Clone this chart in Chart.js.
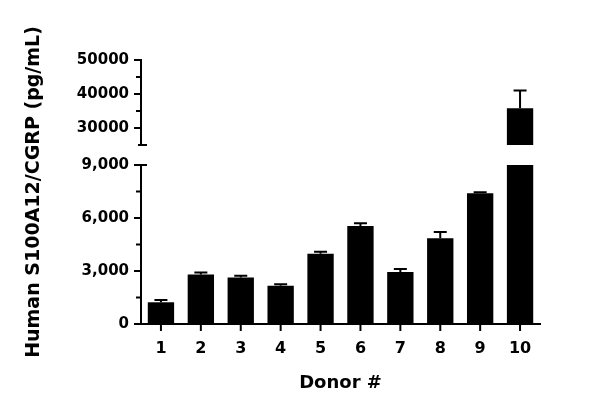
<!DOCTYPE html>
<html lang="en">
<head>
  <meta charset="UTF-8" />
  <title>Human S100A12/CGRP by donor</title>
  <script src="https://cdn.jsdelivr.net/npm/chart.js"></script>
  <style>
    body { margin: 0; background: #fff; }
    #wrap { width: 600px; height: 414px; }
  </style>
</head>
<body>
  <div id="wrap"><canvas id="donorChart" width="600" height="414"></canvas></div>

  <script>
    // values (pg/mL), mean and upper SD
    const donors = ["1", "2", "3", "4", "5", "6", "7", "8", "9", "10"];
    const means = [1230, 2810, 2640, 2170, 3980, 5550, 2940, 4850, 7400, 35800];
    const errs = [130, 110, 90, 80, 110, 150, 170, 360, 60, 5200];

    // broken y axis: two segments
    const lowTicks = [0, 3000, 6000, 9000];
    const lowMinor = [1500, 4500, 7500];
    const highTicks = [30000, 40000, 50000];
    const highMinor = [35000, 45000];
    const lowMax = 9000;
    const highMin = 25000;
    const highMax = 50000;

    const lowData = means.map(v => Math.min(v, lowMax));
    const highData = means.map(v => (v > highMin ? v : null));

    Chart.defaults.font.family = "'DejaVu Sans', sans-serif";
    Chart.defaults.font.weight = "bold";
    Chart.defaults.color = "#000";

    const axisGrid = { display: true, drawOnChartArea: false, drawTicks: true, tickLength: 7, color: "#000", lineWidth: 2 };

    // give the two stacked axes a gap between them and draw the extras
    const brokenAxis = {
      id: "brokenAxis",
      afterLayout(chart) {
        const a = chart.chartArea;
        const h = a.bottom - a.top;
        const hi = chart.scales.yHigh, lo = chart.scales.yLow;
        hi.top = a.top;
        hi.bottom = a.top + h * 0.322;
        hi.height = hi.bottom - hi.top;
        lo.bottom = a.bottom;
        lo.top = a.bottom - h * 0.602;
        lo.height = lo.bottom - lo.top;
        hi.configure();
        lo.configure();
      },
      afterDatasetsDraw(chart) {
        const ctx = chart.ctx;
        const x = chart.scales.x;
        ctx.save();
        ctx.strokeStyle = "#000";
        ctx.lineWidth = 2;
        means.forEach((v, i) => {
          const s = v > lowMax ? chart.scales.yHigh : chart.scales.yLow;
          const px = x.getPixelForValue(i);
          const y0 = s.getPixelForValue(v);
          const y1 = s.getPixelForValue(v + errs[i]);
          ctx.beginPath();
          ctx.moveTo(px, y0);
          ctx.lineTo(px, y1);
          ctx.moveTo(px - 6.5, y1);
          ctx.lineTo(px + 6.5, y1);
          ctx.stroke();
        });
        ctx.restore();
      },
      afterDraw(chart) {
        const ctx = chart.ctx;
        const x = chart.scales.x;
        const hi = chart.scales.yHigh, lo = chart.scales.yLow;
        const ax = hi.right;
        ctx.save();
        ctx.strokeStyle = "#000";
        ctx.lineWidth = 2;
        ctx.beginPath();
        lowMinor.forEach(v => {
          const y = lo.getPixelForValue(v);
          ctx.moveTo(ax - 5, y); ctx.lineTo(ax, y);
        });
        highMinor.forEach(v => {
          const y = hi.getPixelForValue(v);
          ctx.moveTo(ax - 5, y); ctx.lineTo(ax, y);
        });
        // x tick marks under each bar
        donors.forEach((d, i) => {
          const px = x.getPixelForValue(i);
          ctx.moveTo(px, x.top); ctx.lineTo(px, x.top + 7);
        });
        // break caps
        const yb = hi.getPixelForValue(highMin);
        ctx.moveTo(ax - 3, yb); ctx.lineTo(ax + 6, yb);
        const yt = lo.getPixelForValue(lowMax);
        ctx.moveTo(ax, yt); ctx.lineTo(ax + 6, yt);
        ctx.stroke();

        // y axis title spanning both segments
        const a = chart.chartArea;
        ctx.translate(34, (a.top + a.bottom) / 2);
        ctx.rotate(-Math.PI / 2);
        ctx.font = "bold 19px 'DejaVu Sans'";
        ctx.fillStyle = "#000";
        ctx.textAlign = "center";
        ctx.textBaseline = "middle";
        ctx.fillText("Human S100A12/CGRP (pg/mL)", 0, 0);
        ctx.restore();
      }
    };

    new Chart(document.getElementById("donorChart"), {
      type: "bar",
      data: {
        labels: donors,
        datasets: [
          { data: lowData, yAxisID: "yLow", backgroundColor: "#000", grouped: false,
            barPercentage: 0.66, categoryPercentage: 1 },
          { data: highData, yAxisID: "yHigh", backgroundColor: "#000", grouped: false,
            barPercentage: 0.66, categoryPercentage: 1 }
        ]
      },
      options: {
        responsive: false,
        animation: false,
        layout: { padding: { left: 0, top: 60, right: 60, bottom: 0 } },
        plugins: { legend: { display: false }, tooltip: { enabled: false } },
        scales: {
          x: {
            grid: { display: false, tickLength: 6 },
            border: { display: true, color: "#000", width: 2 },
            ticks: { font: { size: 16, weight: "bold" }, padding: 9 },
            title: { display: true, text: "Donor #", font: { size: 18, weight: "bold" },
                     padding: { top: 0, bottom: 20 } },
            afterFit(s) { s.height = 90; }
          },
          yHigh: {
            type: "linear", position: "left", stack: "y", stackWeight: 1,
            min: highMin, max: highMax,
            grid: axisGrid,
            border: { color: "#000", width: 2 },
            ticks: { font: { size: 15, weight: "bold" }, padding: 5, callback: v => String(v) },
            afterBuildTicks(s) { s.ticks = highTicks.map(v => ({ value: v })); },
            afterFit(s) { s.width = 141; }
          },
          yLow: {
            type: "linear", position: "left", stack: "y", stackWeight: 2,
            min: 0, max: lowMax,
            grid: axisGrid,
            border: { color: "#000", width: 2 },
            ticks: { font: { size: 15, weight: "bold" }, padding: 5,
                     callback: v => v.toLocaleString("en-US") },
            afterBuildTicks(s) { s.ticks = lowTicks.map(v => ({ value: v })); },
            afterFit(s) { s.width = 141; }
          }
        }
      },
      plugins: [brokenAxis]
    });
  </script>
</body>
</html>
